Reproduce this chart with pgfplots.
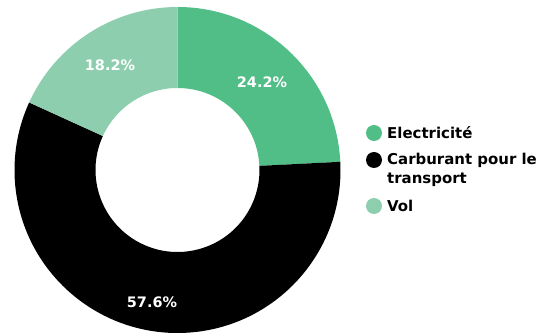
\documentclass[border=0pt]{standalone}
\usepackage{fontspec}
\setmainfont{DejaVu Sans}
\usepackage{pgfplots}
\usepackage{pgfplotstable}
\pgfplotsset{compat=1.18}
\definecolor{gA}{HTML}{52BE87}
\definecolor{gB}{HTML}{000000}
\definecolor{gC}{HTML}{8DCEAF}
\pgfplotstableread{
name value
Electricite 24.2
Carburant 57.6
Vol 18.2
}\donut
\begin{document}
\begin{tikzpicture}
\pgfplotstablegetelem{0}{value}\of\donut \let\va\pgfplotsretval
\pgfplotstablegetelem{1}{value}\of\donut \let\vb\pgfplotsretval
\pgfplotstablegetelem{2}{value}\of\donut \let\vc\pgfplotsretval
\pgfmathsetmacro\aA{90}
\pgfmathsetmacro\aB{90-3.6*\va}
\pgfmathsetmacro\aC{\aB-3.6*\vb}
\pgfmathsetmacro\aD{\aC-3.6*\vc}
\begin{axis}[width=550bp,height=333bp,scale only axis,xmin=0,xmax=550,ymin=0,ymax=333,hide axis,clip=false]
\fill[gA] (axis cs:177.5,163) ++(\aA:163bp) arc[start angle=\aA,end angle=\aB,radius=163bp] -- ++(\aB:-81bp) arc[start angle=\aB,end angle=\aA,radius=82bp] -- cycle;
\fill[gB] (axis cs:177.5,163) ++(\aB:163bp) arc[start angle=\aB,end angle=\aC,radius=163bp] -- ++(\aC:-81bp) arc[start angle=\aC,end angle=\aB,radius=82bp] -- cycle;
\fill[gC] (axis cs:177.5,163) ++(\aC:163bp) arc[start angle=\aC,end angle=\aD,radius=163bp] -- ++(\aD:-81bp) arc[start angle=\aD,end angle=\aC,radius=82bp] -- cycle;
\begin{scope}[every node/.style={text=white,font=\bfseries\fontsize{14.5}{17}\selectfont}]
\node at (axis cs:262,251) {\va\%};
\node at (axis cs:152,31) {\vb\%};
\node at (axis cs:110,268) {\vc\%};
\end{scope}
\fill[gA] (axis cs:374,200) circle[radius=8bp];
\fill[gB] (axis cs:374,173) circle[radius=8bp];
\fill[gC] (axis cs:374,127) circle[radius=8bp];
\begin{scope}[every node/.style={anchor=west,inner sep=0pt,font=\bfseries\fontsize{15}{18}\selectfont}]
\node at (axis cs:387,200) {Electricité};
\node at (axis cs:387,173) {Carburant pour le};
\node at (axis cs:387,153) {transport};
\node at (axis cs:387,127) {Vol};
\end{scope}
\end{axis}
\pgfresetboundingbox
\useasboundingbox (0,0) rectangle (550bp,333bp);
\end{tikzpicture}
\end{document}
